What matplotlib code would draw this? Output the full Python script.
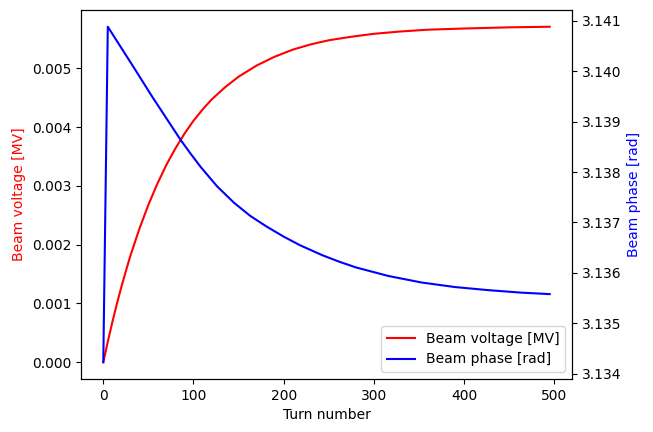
import matplotlib
matplotlib.use("Agg")
import matplotlib.pyplot as plt

# Beam voltage readings (turn, MV)
turns_v = [0, 5, 10, 15, 20, 25, 30, 40, 50, 60, 70, 80, 90, 100, 110, 120, 135,
           150, 170, 190, 210, 230, 250, 275, 300, 330, 360, 400, 450, 495]
voltage = [0.0, 0.00035, 0.00068, 0.00099, 0.00128, 0.00155, 0.00181, 0.00227,
           0.00268, 0.00304, 0.00336, 0.00364, 0.00389, 0.00411, 0.00430, 0.00447,
           0.00468, 0.00486, 0.00505, 0.00520, 0.00532, 0.00541, 0.00548, 0.00554,
           0.00559, 0.00563, 0.00566, 0.00568, 0.00570, 0.00571]

# Beam phase readings (turn, rad)
turns_p = [0, 5, 20, 35, 54, 72, 86, 97, 108, 126, 145, 163, 181, 200, 218, 243,
           262, 280, 316, 353, 390, 426, 463, 495]
phase = [3.13423, 3.14088, 3.14046, 3.14004, 3.13950, 3.13901, 3.13863, 3.13836,
         3.13810, 3.13772, 3.13739, 3.13713, 3.13692, 3.13672, 3.13655, 3.13635,
         3.13622, 3.13611, 3.13594, 3.13581, 3.13572, 3.13566, 3.13561, 3.13558]

fig = plt.figure(figsize=(6.53, 4.32), dpi=100)
ax1 = fig.add_axes([0.1240, 0.1227, 0.7520, 0.8542])
ax2 = ax1.twinx()

l1, = ax1.plot(turns_v, voltage, color="red", label="Beam voltage [MV]")
l2, = ax2.plot(turns_p, phase, color="blue", label="Beam phase [rad]")

ax1.set_xlabel("Turn number")
ax1.set_ylabel("Beam voltage [MV]", color="red")
ax2.set_ylabel("Beam phase [rad]", color="blue")
ax2.ticklabel_format(useOffset=False)

ax2.legend(handles=[l1, l2], loc="lower right")

fig.savefig("out.png", dpi=100)
